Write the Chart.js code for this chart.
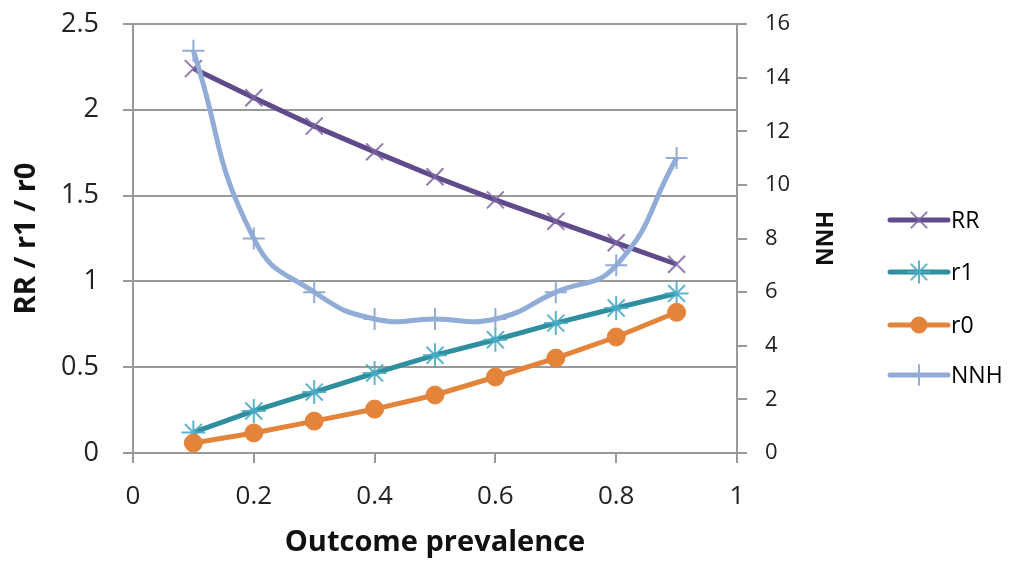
<!DOCTYPE html>
<html><head><meta charset="utf-8">
<script src="https://cdn.jsdelivr.net/npm/chart.js@4.4.1/dist/chart.umd.min.js"></script>
<style>html,body{margin:0;padding:0;background:#fff}#wrap{width:1012px;height:570px}</style>
</head><body><div id="wrap"><canvas id="c" width="1012" height="570"></canvas></div>
<script>
const prevalence = [0.1, 0.2, 0.3, 0.4, 0.5, 0.6, 0.7, 0.8, 0.9];
const RR  = [2.24, 2.07, 1.905, 1.755, 1.61, 1.475, 1.35, 1.225, 1.10];
const r1  = [0.12, 0.245, 0.355, 0.466, 0.57, 0.66, 0.757, 0.845, 0.93];
const r0  = [0.058, 0.117, 0.186, 0.256, 0.338, 0.443, 0.553, 0.676, 0.82];
const NNH = [15.0, 8.0, 6.0, 5.0, 5.0, 5.0, 6.0, 7.0, 11.0];
const seriesNames = ['RR', 'r1', 'r0', 'NNH'];
const xTickValues = [0, 0.2, 0.4, 0.6, 0.8, 1];
const xTitle = 'Outcome prevalence';
const yLeftTitle = 'RR / r1 / r0';
const yRightTitle = 'NNH';

const FONT = "'Open Sans', 'Liberation Sans', sans-serif";
const toXY = arr => arr.map((v, i) => ({x: prevalence[i], y: v}));
const fmt = v => String(Math.round(v * 10) / 10);

const styles = [
  {line: '#5f4a8b', pt: 'rgba(128,100,162,0.85)', ps: 'crossRot', r: 12, pw: 2},
  {line: '#2f8f9f', pt: 'rgba(75,172,198,0.9)', ps: 'star', r: 12, pw: 2},
  {line: '#e3843a', pt: '#e3843a', ps: 'circle', r: 9, pw: 1},
  {line: '#91acd6', pt: '#91acd6', ps: 'cross', r: 11, pw: 2}
];
const values = [RR, r1, r0, NNH];

const datasets = values.map((v, i) => ({
  label: seriesNames[i],
  data: toXY(v),
  yAxisID: i === 3 ? 'y2' : 'y',
  borderColor: styles[i].line,
  borderWidth: 5,
  pointStyle: styles[i].ps,
  pointRadius: styles[i].r,
  pointBorderColor: styles[i].pt,
  pointBackgroundColor: styles[i].pt,
  pointBorderWidth: styles[i].pw,
  tension: i === 3 ? 0.5 : 0,
  order: 3 - i
}));

const legendPlugin = {
  id: 'sideLegend',
  afterDraw(chart) {
    const ctx = chart.ctx;
    const ys = [220, 272, 325, 375];
    ctx.save();
    datasets.forEach((d, i) => {
      const y = ys[i];
      ctx.strokeStyle = styles[i].line;
      ctx.lineWidth = 5;
      ctx.lineCap = 'round';
      ctx.beginPath(); ctx.moveTo(890, y); ctx.lineTo(948, y); ctx.stroke();
      ctx.strokeStyle = styles[i].pt; ctx.fillStyle = styles[i].pt;
      ctx.lineWidth = styles[i].pw;
      Chart.helpers.drawPoint(ctx, {pointStyle: styles[i].ps, radius: styles[i].r * 0.9, borderWidth: styles[i].pw, rotation: 0}, 919, y);
      ctx.fillStyle = '#000';
      ctx.font = "23px " + FONT;
      ctx.textBaseline = 'middle';
      ctx.textAlign = 'left';
      ctx.fillText(d.label, 951, y + 1);
    });
    // right axis title, reading bottom-to-top
    const ca = chart.chartArea;
    ctx.translate(826, (ca.top + ca.bottom) / 2);
    ctx.rotate(-Math.PI / 2);
    ctx.font = "bold 23px " + FONT;
    ctx.fillStyle = '#111';
    ctx.textAlign = 'center';
    ctx.textBaseline = 'middle';
    ctx.fillText(yRightTitle, 0, 0);
    ctx.restore();
  }
};

const fitY = w => s => { s.width = w; s.paddingTop = 0; s.paddingBottom = 0; };

new Chart(document.getElementById('c'), {
  type: 'line',
  data: {datasets},
  options: {
    responsive: false,
    devicePixelRatio: 1,
    animation: false,
    layout: {padding: {top: 24, right: 172, left: 0, bottom: 0}},
    plugins: {legend: {display: false}, tooltip: {enabled: false}},
    scales: {
      x: {
        type: 'linear', min: 0, max: 1,
        afterBuildTicks: s => { s.ticks = xTickValues.map(v => ({value: v})); },
        afterFit: s => { s.height = 117; s.paddingLeft = 0; s.paddingRight = 0; },
        ticks: {color: '#222', font: {family: FONT, size: 26}, padding: 18, callback: fmt},
        grid: {drawOnChartArea: false, color: '#999', lineWidth: 2, tickLength: 10},
        border: {color: '#999', width: 2},
        title: {display: true, text: xTitle, color: '#111', font: {family: FONT, size: 29, weight: 'bold'}, padding: {top: 0, bottom: 10}}
      },
      y: {
        position: 'left', min: 0, max: 2.5,
        ticks: {stepSize: 0.5, color: '#222', font: {family: FONT, size: 27}, padding: 24, callback: fmt},
        afterFit: fitY(133),
        grid: {color: '#999', lineWidth: 2, tickLength: 10},
        border: {color: '#999', width: 2},
        title: {display: true, text: yLeftTitle, color: '#111', font: {family: FONT, size: 29, weight: 'bold'}, padding: {top: 9, bottom: 0}}
      },
      y2: {
        position: 'right', min: 0, max: 16,
        ticks: {stepSize: 2, color: '#222', font: {family: FONT, size: 22}, padding: 18},
        afterFit: fitY(103),
        grid: {drawOnChartArea: false, color: '#999', lineWidth: 2, tickLength: 10},
        border: {color: '#999', width: 2},
        title: {display: false}
      }
    }
  },
  plugins: [legendPlugin]
});
</script></body></html>
